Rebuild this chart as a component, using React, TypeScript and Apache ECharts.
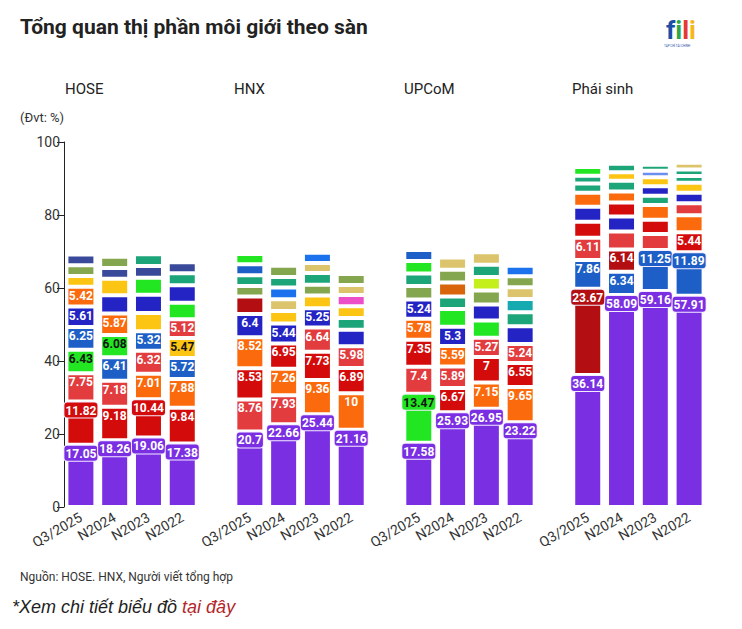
import React, { useEffect, useRef } from "react";
import * as echarts from "echarts";

// ---- data ----
const exchanges = ["HOSE", "HNX", "UPCoM", "Phái sinh"];
const periods = ["Q3/2025", "N2024", "N2023", "N2022"];
const yTicks = [0, 20, 40, 60, 80, 100];

// segment values, bottom to top, for each period
const hoseValues = [
  [17.05, 11.82, 7.75, 6.43, 6.25, 5.61, 5.42, 2.93, 3.0, 2.9],
  [18.26, 9.18, 7.18, 6.41, 6.08, 5.87, 5.0, 4.57, 2.93, 3.1],
  [19.06, 10.44, 7.01, 6.32, 5.32, 4.99, 5.0, 4.7, 3.2, 3.2],
  [17.38, 9.84, 7.88, 5.72, 5.47, 5.12, 4.57, 4.79, 3.26, 3.0],
];
const hnxValues = [
  [20.7, 8.76, 8.53, 8.52, 6.4, 4.77, 2.9, 2.93, 3.0, 2.8],
  [22.66, 7.93, 7.26, 6.95, 5.44, 3.47, 3.2, 3.2, 2.92, 3.1],
  [25.44, 9.36, 7.73, 6.64, 5.25, 3.5, 3.0, 3.2, 2.74, 2.8],
  [21.16, 10, 6.89, 5.98, 4.55, 3.2, 3.2, 3.1, 2.74, 3.0],
];
const upcomValues = [
  [17.58, 13.47, 7.4, 7.35, 5.78, 5.24, 3.73, 3.4, 3.45, 3.0],
  [25.93, 6.67, 5.89, 5.59, 5.3, 4.84, 3.47, 3.84, 3.45, 3.4],
  [26.95, 7.15, 7, 5.27, 4.75, 4.38, 3.84, 3.65, 3.38, 3.4],
  [23.22, 9.65, 6.55, 5.24, 4.84, 3.84, 3.65, 3.2, 3.0, 2.9],
];
const derivValues = [
  [36.14, 23.67, 7.86, 6.11, 4.38, 4.1, 3.84, 2.56, 2.1, 2.4],
  [58.09, 6.34, 6.14, 4.93, 4.1, 3.84, 3.0, 2.93, 2.37, 2.3],
  [59.16, 11.25, 4.38, 3.92, 4.02, 2.56, 2.56, 2.47, 1.83, 1.6],
  [57.91, 11.89, 5.44, 4.66, 3.29, 2.93, 2.74, 1.8, 1.83, 1.8],
];

// colour key of each segment (same order as the values)
const hoseKeys = ["PRLGBKOYVN", "PRLBGOKYNV", "PROLBYKGNT", "PROBYLGKTN"];
const hnxKeys = ["PLROKDVTBG", "PLORKYASTV", "PORLKYVTAS", "PORLKTYMAV"];
const upcomKeys = ["PGLROKVTGB", "PRLOKGTFVA", "PORLGKVETA", "PORLKTCAVS"];
const derivKeys = ["PDBLRKOTTG", "PBDLKROTYT", "PBLROTKYWT", "PBROLKYTTA"];

const palette: Record<string, string> = {
  P: "#7b2fe3",
  R: "#d40b0b",
  L: "#e23c3f",
  O: "#fb6a0c",
  B: "#1d5fc6",
  K: "#2424c4",
  G: "#22e622",
  Y: "#fdc513",
  V: "#84a64e",
  N: "#3a4a9a",
  T: "#1da57a",
  D: "#b30f12",
  A: "#dcc46c",
  S: "#1b72ec",
  M: "#ec4fc8",
  E: "#c4ee1c",
  C: "#15aab0",
  F: "#d8650c",
  W: "#6b8ef0",
};
const darkTextKeys = "GYE";

const groupValues = [hoseValues, hnxValues, upcomValues, derivValues];
const groupKeys = [hoseKeys, hnxKeys, upcomKeys, derivKeys];

const UI_FONT = "Roboto, 'Noto Sans', sans-serif";

export default function App() {
  const ref = useRef<HTMLDivElement>(null);

  useEffect(() => {
    if (!ref.current) return;
    const chart = echarts.init(ref.current, undefined, { renderer: "svg" });

    const cats: { key: string; g: number; p: number }[] = [];
    exchanges.forEach((_, g) => {
      periods.forEach((p, pi) => cats.push({ key: `${g}|${p}`, g, p: pi }));
      if (g < exchanges.length - 1) cats.push({ key: `gap${g}`, g: -1, p: -1 });
    });

    const maxSeg = Math.max(...groupValues.flatMap((gv) => gv.map((b) => b.length)));

    const series: any[] = [];
    for (let r = 0; r < maxSeg; r++) {
      series.push({
        type: "bar",
        stack: "total",
        barWidth: 29,
        name: `s${r}`,
        data: cats.map((c) => {
          if (c.g < 0) return "-";
          const v = groupValues[c.g][c.p][r];
          if (v === undefined) return "-";
          const k = groupKeys[c.g][c.p][r];
          const col = palette[k];
          const boxed = String(v).length >= 4 && v >= 10;
          return {
            value: v,
            itemStyle: { color: col, borderColor: "#fff", borderWidth: 2 },
            label: {
              show: v >= 5.1,
              position: "insideTop",
              distance: 1,
              overflow: "none",
              formatter: String(v),
              color: darkTextKeys.includes(k) ? "#141414" : "#ffffff",
              fontFamily: "Roboto, sans-serif",
              fontWeight: "bold",
              fontSize: 12,
              ...(boxed
                ? {
                    backgroundColor: col,
                    borderColor: "#f4ecff",
                    borderWidth: 1,
                    borderRadius: 3,
                    padding: [2, 1, 1, 1],
                  }
                : { padding: [2, 1, 1, 1] }),
            },
          };
        }),
      });
    }

    chart.setOption({
      animation: false,
      backgroundColor: "#ffffff",
      grid: { left: 64, right: 36, top: 142, bottom: 122, containLabel: false },
      xAxis: {
        type: "category",
        data: cats.map((c) => c.key),
        axisLine: { show: false },
        axisTick: { show: false },
        axisLabel: {
          interval: 0,
          rotate: 30,
          margin: 9,
          color: "#333",
          fontSize: 14,
          fontFamily: UI_FONT,
          formatter: (val: string) => (val.startsWith("gap") ? "" : val.split("|")[1]),
        },
      },
      yAxis: {
        type: "value",
        min: yTicks[0],
        max: yTicks[yTicks.length - 1],
        interval: yTicks[1] - yTicks[0],
        axisLine: { show: true, lineStyle: { color: "#222", width: 1 } },
        axisTick: { show: true, length: 7, lineStyle: { color: "#222" } },
        splitLine: { show: false },
        axisLabel: { color: "#333", fontSize: 14, fontFamily: UI_FONT, margin: 4 },
      },
      series,
      graphic: [
        {
          type: "text",
          left: 20,
          top: 16,
          style: {
            text: "Tổng quan thị phần môi giới theo sàn",
            font: `bold 21px ${UI_FONT}`,
            fill: "#222",
          },
        },
        ...exchanges.map((name, i) => ({
          type: "text",
          left: [65, 234, 404, 572][i],
          top: 81,
          style: { text: name, font: `15px ${UI_FONT}`, fill: "#222" },
        })),
        {
          type: "text",
          left: 20,
          top: 111,
          style: { text: "(Đvt: %)", font: `13px ${UI_FONT}`, fill: "#333" },
        },
        {
          type: "text",
          left: 20,
          top: 571,
          style: {
            text: "Nguồn: HOSE. HNX, Người viết tổng hợp",
            font: `12px ${UI_FONT}`,
            fill: "#333",
          },
        },
        {
          type: "text",
          left: 12,
          top: 598,
          style: {
            text: "{a|*Xem chi tiết biểu đồ }{b|tại đây}",
            rich: {
              a: {
                fontFamily: "'Liberation Sans', Arial, sans-serif",
                fontStyle: "italic",
                fontSize: 18,
                fill: "#222",
              },
              b: {
                fontFamily: "'Liberation Sans', Arial, sans-serif",
                fontStyle: "italic",
                fontSize: 18,
                fill: "#b3262a",
              },
            },
          },
        },
        {
          type: "text",
          left: 666,
          top: 17,
          style: {
            text: "{f|f}{i|i}{l|l}{j|i}",
            rich: {
              f: { fontSize: 26, fontWeight: "bold", fill: "#1b4fa8", fontFamily: UI_FONT },
              i: { fontSize: 26, fontWeight: "bold", fill: "#2aa84a", fontFamily: UI_FONT },
              l: { fontSize: 26, fontWeight: "bold", fill: "#e53a2f", fontFamily: UI_FONT },
              j: { fontSize: 26, fontWeight: "bold", fill: "#f3b81b", fontFamily: UI_FONT },
            },
          },
        },
        {
          type: "text",
          left: 664,
          top: 44,
          style: { text: "TẠP CHÍ TÀI CHÍNH", font: `3px ${UI_FONT}`, fill: "#1b4fa8" },
        },
      ],
    });

    return () => chart.dispose();
  }, []);

  return (
    <div
      ref={ref}
      style={{ position: "fixed", left: 0, top: 0, width: 742, height: 629, background: "#fff" }}
    />
  );
}
